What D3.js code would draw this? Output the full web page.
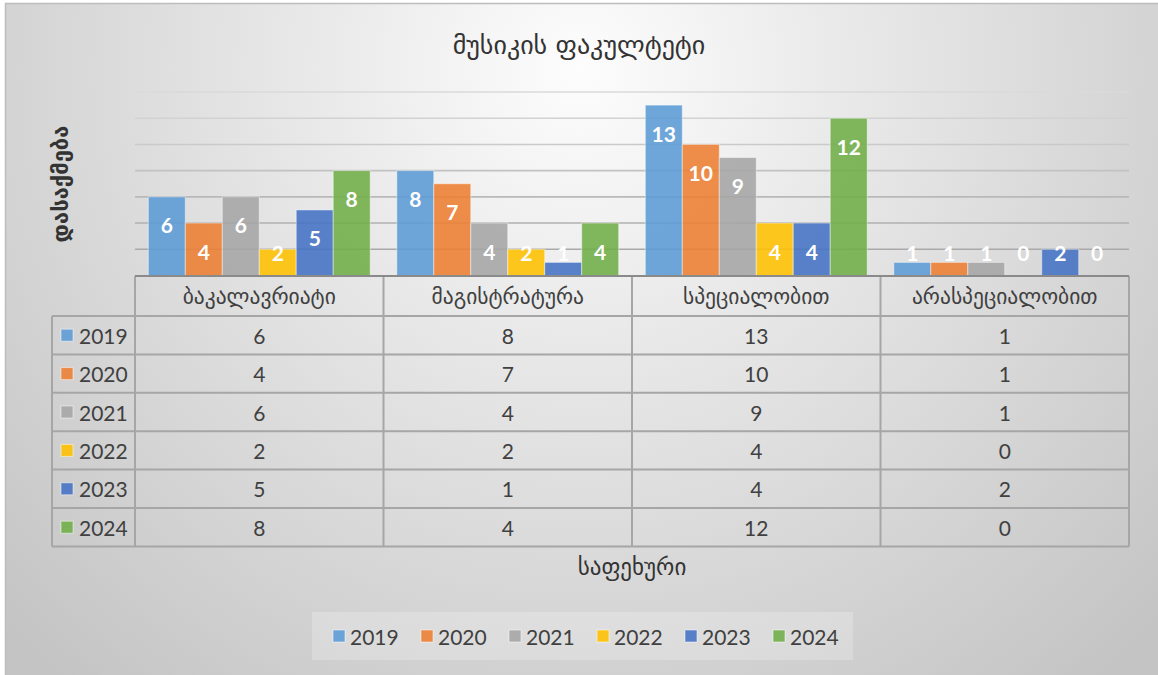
<!DOCTYPE html>
<html>
<head>
<meta charset="utf-8">
<script src="https://cdn.jsdelivr.net/npm/d3@7"></script>
<style>
  body { margin: 0; background: #ffffff; }
  svg { display: block; }
</style>
</head>
<body>
<div id="chart"></div>
<script>
// data
var title = "მუსიკის ფაკულტეტი";
var yTitle = "დასაქმება";
var xTitle = "საფეხური";
var categories = ["ბაკალავრიატი", "მაგისტრატურა", "სპეციალობით", "არასპეციალობით"];
var years = ["2019", "2020", "2021", "2022", "2023", "2024"];
var colors = ["#5B9BD5", "#ED7D31", "#A5A5A5", "#FFC000", "#4472C4", "#70AD47"];
var v2019 = [6, 8, 13, 1];
var v2020 = [4, 7, 10, 1];
var v2021 = [6, 4, 9, 1];
var v2022 = [2, 2, 4, 0];
var v2023 = [5, 1, 4, 2];
var v2024 = [8, 4, 12, 0];
var yTicks = [0, 2, 4, 6, 8, 10, 12, 14];

var series = [v2019, v2020, v2021, v2022, v2023, v2024];

var width = 1158, height = 675;
var geo = "'DejaVu Sans', sans-serif";
var num = "Lato, 'Open Sans', sans-serif";
var textCol = "#404040";

var svg = d3.select("#chart").append("svg")
  .attr("width", width)
  .attr("height", height);

var defs = svg.append("defs");
var bg = defs.append("radialGradient")
  .attr("id", "bg")
  .attr("gradientUnits", "userSpaceOnUse")
  .attr("cx", 580).attr("cy", 70).attr("r", 800);
bg.append("stop").attr("offset", 0).attr("stop-color", "#fdfdfd");
bg.append("stop").attr("offset", 0.3).attr("stop-color", "#ebebeb");
bg.append("stop").attr("offset", 1).attr("stop-color", "#c4c4c4");

svg.append("rect")
  .attr("x", 5.5).attr("y", 3.5)
  .attr("width", 1160).attr("height", 680)
  .attr("fill", "url(#bg)")
  .attr("stroke", "#bdbdbd")
  .attr("stroke-width", 1.5);

// scales
var x0 = d3.scaleBand().domain(categories).range([135, 1129]);
var x1 = d3.scaleBand().domain(years).range([0, x0.bandwidth()]).paddingOuter(0.36);
var y = d3.scaleLinear().domain([0, 14]).range([275.5, 92]);
var gridColor = d3.scaleLinear().domain([14, 2]).range(["#dadada", "#a9a9a9"]);

// gridlines
svg.append("g").attr("class", "grid")
  .selectAll("line")
  .data(yTicks.filter(d => d > 0))
  .join("line")
  .attr("x1", 135).attr("x2", 1129)
  .attr("y1", d => y(d)).attr("y2", d => y(d))
  .attr("stroke", d => gridColor(d))
  .attr("stroke-width", 1.6);

// bars
var groups = svg.append("g").attr("class", "bars")
  .selectAll("g")
  .data(series)
  .join("g")
  .attr("fill", (d, i) => colors[i]);

groups.selectAll("rect")
  .data((d, i) => d.map((v, j) => ({v: v, cat: categories[j], year: years[i]})))
  .join("rect")
  .attr("x", d => x0(d.cat) + x1(d.year))
  .attr("y", d => y(d.v))
  .attr("width", x1.bandwidth())
  .attr("height", d => y(0) - y(d.v))
  .attr("fill-opacity", 0.88)
  .attr("stroke", "#ffffff")
  .attr("stroke-opacity", 0.45)
  .attr("stroke-width", 1);

groups.selectAll("text")
  .data((d, i) => d.map((v, j) => ({v: v, cat: categories[j], year: years[i]})))
  .join("text")
  .attr("x", d => x0(d.cat) + x1(d.year) + x1.bandwidth() / 2)
  .attr("y", d => Math.min(y(d.v) + 28, y(0) - 23))
  .attr("text-anchor", "middle")
  .attr("dominant-baseline", "central")
  .attr("fill", "#ffffff")
  .style("font-family", num)
  .style("font-weight", 700)
  .style("font-size", "21px")
  .text(d => d.v);

// data table
var tableTop = 276, headH = 40, rowH = 38.4;
var rowY = d3.range(years.length + 1).map(i => tableTop + headH + i * rowH);
var table = svg.append("g").attr("class", "table")
  .attr("stroke", "#a6a6a6")
  .attr("stroke-width", 2);

table.selectAll("line.v")
  .data(x0.domain().map(c => x0(c)).concat([x0.range()[1]]))
  .join("line")
  .attr("class", "v")
  .attr("x1", d => d).attr("x2", d => d)
  .attr("y1", tableTop).attr("y2", rowY[rowY.length - 1]);

table.selectAll("line.h")
  .data(rowY)
  .join("line")
  .attr("class", "h")
  .attr("x1", 52).attr("x2", 1129)
  .attr("y1", d => d).attr("y2", d => d);

table.append("line")
  .attr("x1", 52).attr("x2", 52)
  .attr("y1", rowY[0]).attr("y2", rowY[rowY.length - 1]);

// axis line on top of the table
svg.append("line")
  .attr("x1", 135).attr("x2", 1129)
  .attr("y1", tableTop).attr("y2", tableTop)
  .attr("stroke", "#8a8a8a")
  .attr("stroke-width", 2);

svg.append("g").attr("class", "heads")
  .selectAll("text")
  .data(categories)
  .join("text")
  .attr("x", d => x0(d) + x0.bandwidth() / 2)
  .attr("y", tableTop + headH / 2)
  .attr("text-anchor", "middle")
  .attr("dominant-baseline", "central")
  .attr("fill", textCol)
  .style("font-family", geo)
  .style("font-size", "21.5px")
  .text(d => d);

var rows = svg.append("g").attr("class", "rows")
  .selectAll("g")
  .data(series)
  .join("g")
  .attr("transform", (d, i) => `translate(0,${rowY[i] + rowH / 2})`);

rows.append("rect")
  .attr("x", 61).attr("y", -6)
  .attr("width", 12).attr("height", 12)
  .attr("fill", (d, i) => colors[i])
  .attr("fill-opacity", 0.88)
  .attr("stroke", "#ffffff")
  .attr("stroke-opacity", 0.5);

rows.append("text")
  .attr("x", 79)
  .attr("dominant-baseline", "central")
  .attr("fill", textCol)
  .style("font-family", num)
  .style("font-size", "21px")
  .text((d, i) => years[i]);

rows.selectAll("text.val")
  .data(d => d.map((v, j) => ({v: v, cat: categories[j]})))
  .join("text")
  .attr("class", "val")
  .attr("x", d => x0(d.cat) + x0.bandwidth() / 2)
  .attr("dominant-baseline", "central")
  .attr("text-anchor", "middle")
  .attr("fill", textCol)
  .style("font-family", num)
  .style("font-size", "21px")
  .text(d => d.v);

// titles
svg.append("text")
  .attr("x", 579).attr("y", 45)
  .attr("text-anchor", "middle")
  .attr("dominant-baseline", "central")
  .attr("fill", "#333333")
  .style("font-family", geo)
  .style("font-size", "26px")
  .text(title);

svg.append("text")
  .attr("transform", "translate(60,184) rotate(-90)")
  .attr("text-anchor", "middle")
  .attr("dominant-baseline", "central")
  .attr("fill", "#333333")
  .style("font-family", geo)
  .style("font-size", "22px")
  .style("font-weight", 700)
  .text(yTitle);

svg.append("text")
  .attr("x", (x0.range()[0] + x0.range()[1]) / 2).attr("y", 567)
  .attr("text-anchor", "middle")
  .attr("dominant-baseline", "central")
  .attr("fill", "#333333")
  .style("font-family", geo)
  .style("font-size", "23px")
  .text(xTitle);

// legend
var legend = svg.append("g").attr("class", "legend");
legend.append("rect")
  .attr("x", 312).attr("y", 612)
  .attr("width", 541).attr("height", 48)
  .attr("fill", "#ffffff")
  .attr("fill-opacity", 0.22);

var item = legend.selectAll("g")
  .data(years)
  .join("g")
  .attr("transform", (d, i) => `translate(${333 + i * 88},636)`);

item.append("rect")
  .attr("x", 0).attr("y", -6)
  .attr("width", 12).attr("height", 12)
  .attr("fill", (d, i) => colors[i])
  .attr("fill-opacity", 0.88)
  .attr("stroke", "#ffffff")
  .attr("stroke-opacity", 0.5);

item.append("text")
  .attr("x", 17)
  .attr("dominant-baseline", "central")
  .attr("fill", textCol)
  .style("font-family", num)
  .style("font-size", "21px")
  .text(d => d);
</script>
</body>
</html>
